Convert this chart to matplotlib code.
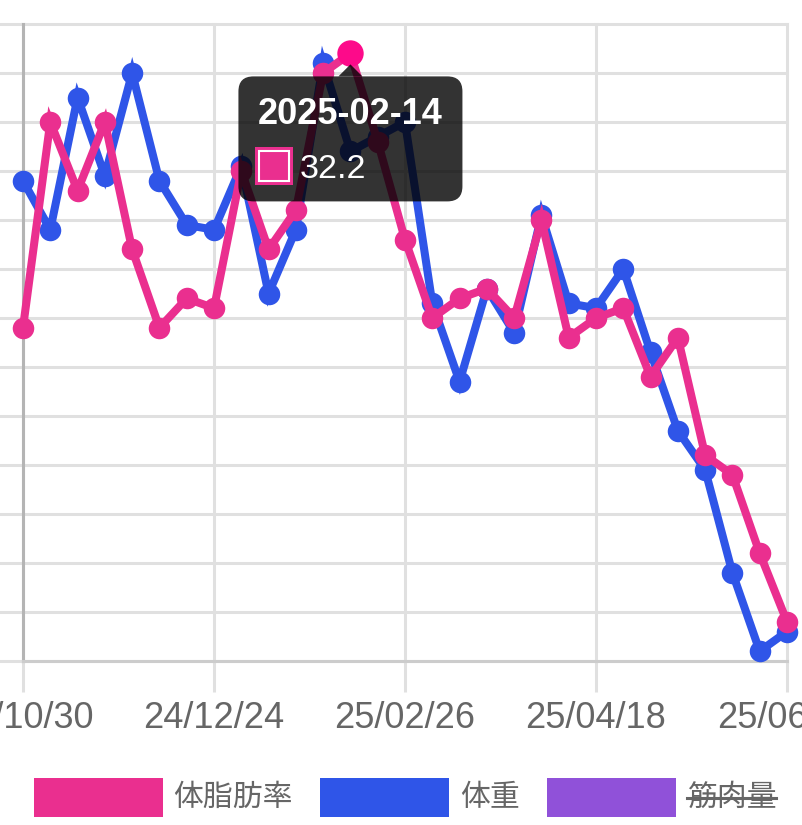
import numpy as np
import matplotlib
matplotlib.use('Agg')
from matplotlib import pyplot as plt
from matplotlib.patches import FancyBboxPatch, Polygon, Rectangle
from matplotlib.lines import Line2D
from matplotlib.transforms import IdentityTransform

plt.rcParams['font.family'] = ['Liberation Sans', 'Noto Sans CJK JP', 'DejaVu Sans']

# x axis: one point per measurement, ticks every 7th point
tick_pos = [0, 7, 14, 21, 28]
tick_labels = ['24/10/30', '24/12/24', '25/02/26', '25/04/18', '25/06/06']

# 体脂肪率 (%)
fat = [29.4, 31.5, 30.8, 31.5, 30.2, 29.4, 29.7, 29.6, 31.0, 30.2,
       30.6, 32.0, 32.2, 31.3, 30.3, 29.5, 29.7, 29.8, 29.5, 30.5,
       29.3, 29.5, 29.6, 28.9, 29.3, 28.1, 27.9, 27.1, 26.4]
# 体重 (kg)
weight = [64.9, 64.4, 65.75, 64.95, 66.0, 64.9, 64.45, 64.4, 65.05, 63.75,
          64.4, 66.1, 65.2, 65.35, 65.5, 63.65, 62.85, 63.8, 63.35, 64.55,
          63.65, 63.6, 64.0, 63.15, 62.35, 61.95, 60.9, 60.1, 60.3]

legend_labels = ['体脂肪率', '体重', '筋肉量']
legend_hidden = [False, False, True]

hover_idx = 12
hover_date = '2025-02-14'

pink = '#ea2f8f'
blue = '#2f55e8'
purple = '#9051d9'
hot = '#fd0a8a'
colors = [pink, blue, purple]

W, H = 803, 825
fig = plt.figure(figsize=(W / 100, H / 100), dpi=100)
L, R, T, B = 23, 787, 24, 661
ax = fig.add_axes([L / W, 1 - B / H, (R - L) / W, (B - T) / H])

x = np.arange(len(fat))

# weight axis carries the grid
ax.set_xlim(0, len(fat) - 1)
ax.set_ylim(60.0, 66.5)
ax.set_yticks(np.arange(60.0, 66.51, 0.5))
ax.set_xticks(tick_pos)
ax.set_xticklabels(tick_labels)
ax.grid(True, color='#e0e0e0', lw=2.2, clip_on=False)
ax.set_axisbelow(True)
for s in ax.spines.values():
    s.set_visible(False)
ax.tick_params(axis='x', length=22, width=2.2, color='#e0e0e0', labelsize=26,
               labelcolor='#666666', pad=7)
ax.tick_params(axis='y', length=30, width=2.2, color='#e0e0e0', labelleft=False)
ax.xaxis.get_major_ticks()[0].tick1line.set_color('#b4b4b4')
ax.axvline(0, color='#b4b4b4', lw=2.2, zorder=1, clip_on=False)
ax.axhline(60.0, color='#cccccc', lw=2.2, zorder=1, clip_on=False)

ax.plot(x, weight, color=blue, lw=5.8, marker='o', ms=15.5, mew=0,
        solid_joinstyle='miter', clip_on=False, zorder=3)

axp = ax.twinx()
axp.set_ylim(26.0, 32.5)
axp.axis('off')
axp.plot(x, fat, color=pink, lw=5.8, marker='o', ms=15.5, mew=0,
         solid_joinstyle='miter', clip_on=False, zorder=3)
axp.plot([hover_idx], [fat[hover_idx]], 'o', color=hot, ms=19, mew=0,
         clip_on=False, zorder=4)

# tooltip
px, py = axp.transData.transform((hover_idx, fat[hover_idx]))
ident = IdentityTransform()
box_top = py - 23
box = FancyBboxPatch((px - 112, box_top - 125), 224, 125,
                     boxstyle='round,pad=0,rounding_size=15',
                     fc=(0, 0, 0, 0.8), ec='none', transform=ident, zorder=10)
fig.add_artist(box)
caret = Polygon([(px - 12, box_top), (px + 12, box_top), (px, box_top + 12)],
                closed=True, fc=(0, 0, 0, 0.8), ec='none', transform=ident, zorder=10)
fig.add_artist(caret)
fig.text(px - 93, py - 71, hover_date, color='white', fontsize=26,
         fontweight='bold', ha='left', va='baseline', transform=ident, zorder=11)
fig.add_artist(Rectangle((px - 95, py - 132), 38, 38, fc=pink, ec='none',
                         transform=ident, zorder=11))
fig.add_artist(Rectangle((px - 91, py - 128), 30, 30, fc='none', ec='white', lw=1.5,
                         transform=ident, zorder=12))
fig.text(px - 51, py - 125, f'{fat[hover_idx]:.1f}', color='white', fontsize=24.5,
         ha='left', va='baseline', transform=ident, zorder=11)

# legend
renderer = fig.canvas.get_renderer()
box_w, box_h, gap, item_gap = 129, 39, 11, 27
ly = H - 797.5
texts = []
widths = []
for lab in legend_labels:
    t = fig.text(0, ly, lab, fontsize=21.5, color='#666666', ha='left', va='center',
                 transform=ident)
    texts.append(t)
    widths.append(t.get_window_extent(renderer).width)
total = sum(box_w + gap + w for w in widths) + item_gap * (len(widths) - 1)
cx = (L + R) / 2
xs = cx - total / 2
for t, w, c, hidden in zip(texts, widths, colors, legend_hidden):
    fig.add_artist(Rectangle((xs, ly - box_h / 2), box_w, box_h, fc=c, ec='none',
                             transform=ident))
    t.set_position((xs + box_w + gap, ly))
    if hidden:
        fig.add_artist(Line2D([xs + box_w + gap, xs + box_w + gap + w], [ly, ly],
                              color='#666666', lw=2.2, transform=ident))
    xs += box_w + gap + w + item_gap

fig.savefig('out.png', dpi=100)
